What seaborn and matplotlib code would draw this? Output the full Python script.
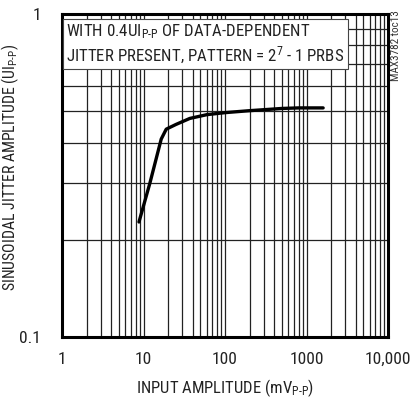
import matplotlib
matplotlib.use("Agg")
import matplotlib.pyplot as plt
import seaborn as sns
import pandas as pd
from matplotlib.ticker import LogLocator, FixedLocator, NullFormatter

# data
input_amp = [8.8, 12, 16.5, 19, 25, 37, 60, 100, 200, 500, 800, 1600]
jitter = [0.227, 0.30, 0.41, 0.44, 0.455, 0.475, 0.488, 0.495, 0.502, 0.51, 0.512, 0.512]
x_ticks = [1, 10, 100, 1000, 10000]
x_tick_labels = ["1", "10", "100", "1000", "10,000"]
y_ticks = [0.1, 1]
y_tick_labels = ["0.1", "1"]

sns.set_style("white")
FONT = ["Roboto Condensed", "Roboto", "DejaVu Sans"]
plt.rcParams["font.family"] = FONT
plt.rcParams["mathtext.fontset"] = "custom"
plt.rcParams["mathtext.rm"] = "Roboto Condensed"
plt.rcParams["mathtext.it"] = "Roboto Condensed"
plt.rcParams["mathtext.default"] = "rm"

fig = plt.figure(figsize=(4.17, 3.98), dpi=100)
ax = fig.add_axes([62/417, 61/398, 326/417, 323/398])

df = pd.DataFrame({"x": input_amp, "y": jitter})
sns.lineplot(data=df, x="x", y="y", ax=ax, color="black", lw=2.4, zorder=5)

ax.set_xscale("log")
ax.set_yscale("log")
ax.set_xlim(1, 10000)
ax.set_ylim(0.1, 1)

ax.xaxis.set_major_locator(FixedLocator(x_ticks))
ax.set_xticklabels(x_tick_labels)
ax.xaxis.set_minor_locator(LogLocator(base=10, subs=range(2, 10)))
ax.xaxis.set_minor_formatter(NullFormatter())
ax.yaxis.set_major_locator(FixedLocator(y_ticks))
ax.set_yticklabels(y_tick_labels)
ax.yaxis.set_minor_locator(LogLocator(base=10, subs=range(2, 10)))
ax.yaxis.set_minor_formatter(NullFormatter())

ax.grid(True, which="both", color="#222222", lw=0.9)
ax.tick_params(which="both", length=0, labelsize=12.5, colors="#222222")
ax.tick_params(axis="x", pad=11)
ax.tick_params(axis="y", pad=15)

for s in ax.spines.values():
    s.set_linewidth(2.2)
    s.set_color("black")
    s.set_zorder(6)

ax.set_xlabel("INPUT AMPLITUDE (mV$_{\\mathrm{P\\text{-}P}}$)", fontsize=12, color="#222222", labelpad=7)
ax.set_ylabel("SINUSOIDAL JITTER AMPLITUDE (UI$_{\\mathrm{P\\text{-}P}}$)", fontsize=11.3, color="#222222")
ax.yaxis.set_label_coords(-0.125, 0.525)

# text box covering the top-left grid
ax.text(0.013, 0.975,
        "WITH 0.4UI$_{\\mathrm{P\\text{-}P}}$ OF DATA-DEPENDENT\nJITTER PRESENT, PATTERN = 2$^{7}$ - 1 PRBS",
        transform=ax.transAxes, ha="left", va="top", fontsize=12.2, color="#222222",
        linespacing=1.22, zorder=7,
        bbox=dict(boxstyle="square,pad=0.2", fc="white", ec="#444444", lw=0.8))

fig.text(396/417, 1 - 10/398, "MAX3782 toc13", rotation=90, ha="center", va="top",
         fontsize=8, color="#333333")

fig.savefig("out.png", dpi=100)
